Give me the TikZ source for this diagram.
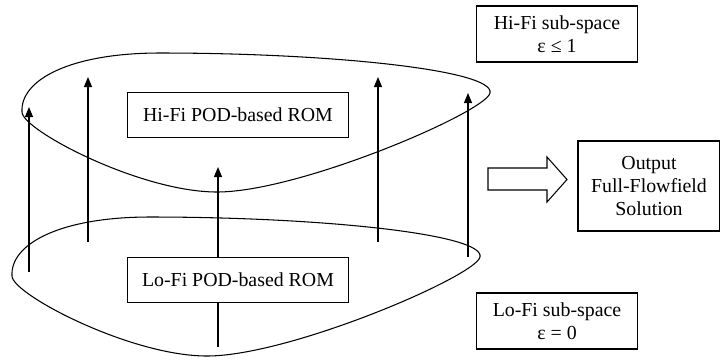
\documentclass[tikz,border=0pt]{standalone}
\usepackage{fontspec}
\setmainfont{Liberation Serif}
\usetikzlibrary{arrows.meta}

\begin{document}
\begin{tikzpicture}[x=0.02cm, y=-0.02cm, line width=0.6pt,
  txt/.style={font=\fontsize{11.3pt}{13pt}\selectfont},
  rom/.style={draw, txt, minimum width=4.42cm, minimum height=0.9cm},
  note/.style={draw, txt, align=center, minimum width=3.22cm, minimum height=1.12cm},
  up/.style={-{Triangle[length=0.2cm, width=0.16cm]}}]
\useasboundingbox (0,0) rectangle (720,360);

% the two sub-spaces
\foreach \dx/\dy in {0/0, -10/164} {
  \draw[shift={(\dx,\dy)}] (22,112) .. controls (20,80) and (70,53) .. (160,53)
    .. controls (330,53) and (495,70) .. (490,93)
    .. controls (486,112) and (300,192) .. (217,192)
    .. controls (140,192) and (22,130) .. cycle;
}

\node[rom] (hi) at (238,115) {Hi-Fi POD-based ROM};
\node[rom] (lo) at (238,280) {Lo-Fi POD-based ROM};

\node[note] (his) at (557,34) {Hi-Fi sub-space\\ε ≤ 1};
\node[note] (los) at (557,321) {Lo-Fi sub-space\\ε = 0};
\node[draw, txt, align=center, minimum width=2.84cm, minimum height=1.8cm] (out) at (649,186) {Output\\Full-Flowfield\\Solution};

% lifting arrows
\foreach \x/\s/\e in {29/272/107, 88/242/77, 378/242/77, 468/257/93} {
  \coordinate (s\x) at (\x,\s);
  \coordinate (e\x) at (\x,\e);
  \draw[up] (s\x) -- (e\x);
}
\coordinate (mid) at (218,347);
\coordinate (tip) at (218,167);
\draw (mid) -- (lo.south -| mid);
\draw[up] (lo.north -| mid) -- (tip);

% fat arrow
\draw (488,168) -- (547,168) -- (547,157) -- (567,179.5) -- (547,202) -- (547,190) -- (488,190) -- cycle;

\end{tikzpicture}
\end{document}
